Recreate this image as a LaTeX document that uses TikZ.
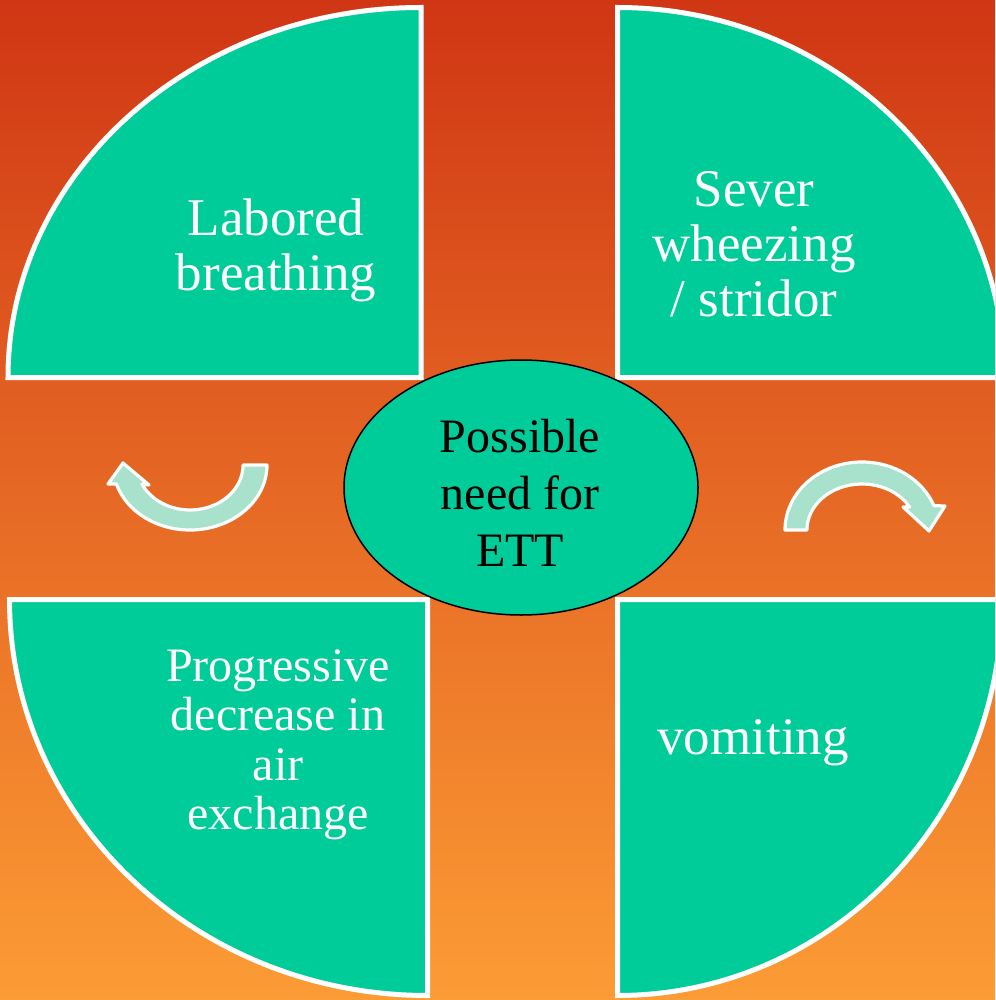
\documentclass[tikz,border=0pt]{standalone}
\usepackage{fontspec}
\setmainfont{Liberation Serif}
\usetikzlibrary{shapes.geometric}
\definecolor{bgtop}{RGB}{208,54,20}
\definecolor{bgmid}{RGB}{233,112,40}
\definecolor{bgbot}{RGB}{252,156,53}
\definecolor{segfill}{RGB}{0,204,153}
\definecolor{arrowfill}{RGB}{168,226,204}
\begin{document}
\begin{tikzpicture}[x=1pt,y=-1pt,
  seg/.style={fill=segfill, draw=white, line width=5pt, line join=miter},
  arrowshape/.style={fill=arrowfill, draw=white, line width=3.2pt, line join=round},
  seglabel/.style={text=white, align=center, inner sep=0pt, font=\rmfamily\fontsize{53}{55}\selectfont},
]
\useasboundingbox (0,0) rectangle (995,1000);
\shade[top color=bgtop, middle color=bgmid, bottom color=bgbot] (0,0) rectangle (995,1000);
\begin{scope}
  \clip (0,0) rectangle (995,1000);
  % quadrants
  \draw[seg] (421,377.5) -- (8,377.5) arc[start angle=180,end angle=270,x radius=413,y radius=370] -- cycle;
  \draw[seg] (617.5,7.5) arc[start angle=270,end angle=360,x radius=387,y radius=370] -- (617.5,377.5) -- cycle;
  \draw[seg] (427.5,599.5) -- (427.5,995.5) arc[start angle=90,end angle=180,x radius=418,y radius=396] -- cycle;
  \draw[seg] (617.5,599.5) -- (1002,599.5) arc[start angle=0,end angle=90,x radius=384.5,y radius=396] -- cycle;
  % cycle arrows
  \draw[arrowshape] (267,465) arc[start angle=0,end angle=163,x radius=77,y radius=65]
     -- (108,484) -- (123,463) -- (149,485) -- (142,484)
     arc[start angle=155,end angle=0,x radius=53,y radius=45] -- cycle;
  \draw[arrowshape] (785,530) arc[start angle=180,end angle=339,x radius=77,y radius=68]
     -- (945,506) -- (929,531) -- (903,507) -- (909.6,507)
     arc[start angle=330,end angle=180,x radius=55,y radius=46] -- cycle;
\end{scope}
% labels
\node[seglabel] (labored) at (276,250) {Labored\\breathing};
\node[seglabel] (sever) at (754,244.5) {Sever\\wheezing\\/ stridor};
\node[seglabel, font=\rmfamily\fontsize{48}{49.5}\selectfont] (progressive) at (278,745) {Progressive\\decrease in\\air\\exchange};
\node[seglabel] (vomiting) at (753,743) {vomiting};
% centre
\node[ellipse, fill=segfill, draw=black, line width=1.5pt, minimum width=354pt, minimum height=255pt, inner sep=0pt] (ett) at (521,487.5) {};
\node[align=center, inner sep=0pt, text=black, font=\rmfamily\fontsize{48}{57}\selectfont] (ettlabel) at (520,493) {Possible\\need for\\ETT};
\end{tikzpicture}
\end{document}
